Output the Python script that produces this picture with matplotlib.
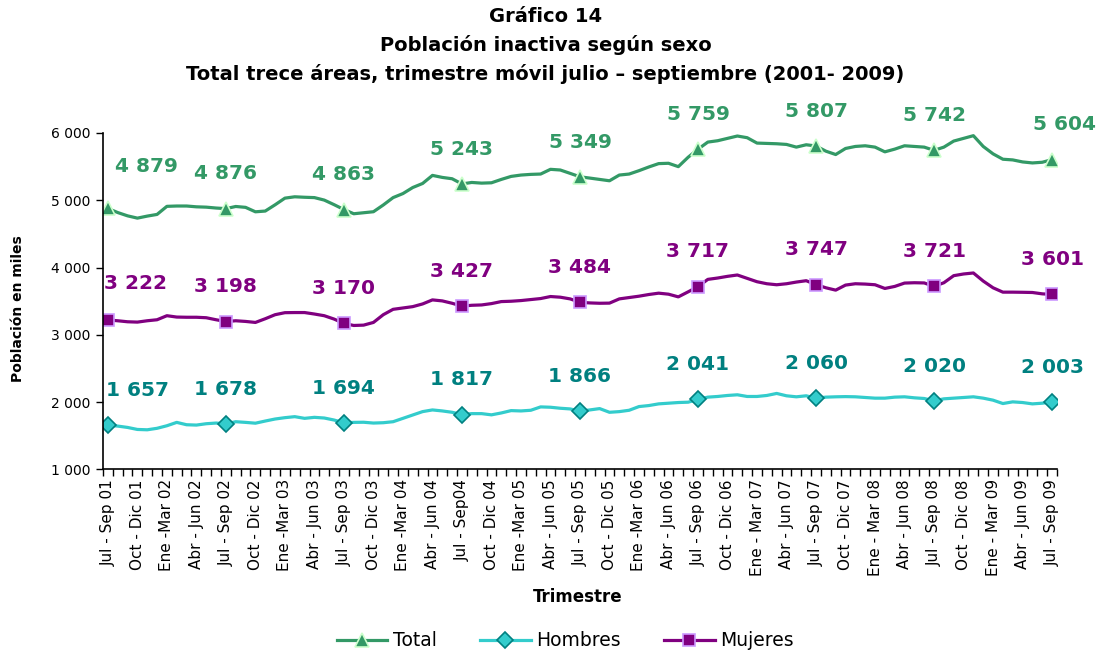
import numpy as np
import matplotlib
matplotlib.use('Agg')
from matplotlib import pyplot as plt

# trimestres moviles jul-sep 2001 .. jul-sep 2009 (miles de personas)
total = [4879, 4818, 4769, 4735, 4765, 4790, 4910, 4915, 4915, 4903, 4898, 4885, 4876,
         4908, 4895, 4829, 4840, 4933, 5032, 5052, 5045, 5040, 5003, 4935, 4863,
         4800, 4815, 4830, 4930, 5040, 5100, 5190, 5250, 5370, 5340, 5320, 5243,
         5265, 5255, 5260, 5310, 5355, 5375, 5385, 5390, 5460, 5450, 5400, 5349,
         5330, 5310, 5290, 5375, 5390, 5440, 5495, 5545, 5550, 5500, 5640, 5759,
         5865, 5885, 5920, 5955, 5930, 5850, 5845, 5840, 5830, 5790, 5825, 5807,
         5730, 5680, 5770, 5800, 5810, 5790, 5720, 5760, 5810, 5800, 5790, 5742,
         5790, 5880, 5920, 5960, 5800, 5690, 5610, 5600, 5570, 5555, 5565, 5604]

mujeres = [3222, 3210, 3195, 3190, 3210, 3225, 3285, 3265, 3262, 3262, 3255, 3225, 3198,
           3210, 3200, 3185, 3240, 3300, 3330, 3332, 3332, 3310, 3285, 3235, 3170,
           3140, 3145, 3185, 3300, 3380, 3400, 3420, 3460, 3520, 3505, 3470, 3427,
           3440, 3445, 3465, 3495, 3500, 3510, 3525, 3540, 3570, 3560, 3535, 3484,
           3475, 3470, 3472, 3535, 3555, 3575, 3600, 3620, 3605, 3565, 3640, 3717,
           3825, 3845, 3870, 3890, 3840, 3790, 3760, 3745, 3760, 3785, 3805, 3747,
           3700, 3665, 3740, 3760, 3755, 3745, 3690, 3720, 3770, 3775, 3772, 3721,
           3775, 3880, 3905, 3920, 3800, 3700, 3635, 3635, 3633, 3630, 3610, 3601]

hombres = [1657, 1645, 1625, 1595, 1590, 1612, 1650, 1700, 1665, 1660, 1680, 1690, 1678,
           1710, 1700, 1688, 1720, 1750, 1770, 1785, 1760, 1775, 1765, 1735, 1694,
           1700, 1702, 1690, 1695, 1710, 1760, 1810, 1860, 1885, 1870, 1850, 1817,
           1830, 1830, 1812, 1840, 1875, 1870, 1880, 1930, 1925, 1910, 1900, 1866,
           1885, 1905, 1850, 1860, 1880, 1935, 1950, 1975, 1985, 1995, 2000, 2041,
           2075, 2085, 2100, 2110, 2085, 2085, 2100, 2130, 2095, 2080, 2095, 2060,
           2075, 2080, 2083, 2080, 2070, 2060, 2060, 2075, 2080, 2065, 2055, 2020,
           2050, 2060, 2070, 2080, 2060, 2030, 1980, 2005, 1995, 1975, 1985, 2003]

etiquetas = ['Jul - Sep 01', 'Oct - Dic 01', 'Ene -Mar 02', 'Abr - Jun 02',
             'Jul - Sep 02', 'Oct - Dic 02', 'Ene -Mar 03', 'Abr - Jun 03',
             'Jul - Sep 03', 'Oct - Dic 03', 'Ene -Mar 04', 'Abr - Jun 04',
             'Jul - Sep04', 'Oct - Dic 04', 'Ene -Mar 05', 'Abr - Jun 05',
             'Jul - Sep 05', 'Oct - Dic 05', 'Ene -Mar 06', 'Abr - Jun 06',
             'Jul - Sep 06', 'Oct - Dic 06', 'Ene - Mar 07', 'Abr - Jun 07',
             'Jul - Sep 07', 'Oct - Dic 07', 'Ene - Mar 08', 'Abr - Jun 08',
             'Jul - Sep 08', 'Oct - Dic 08', 'Ene - Mar 09', 'Abr - Jun 09',
             'Jul - Sep 09']


def miles(v):
    return f'{v:,}'.replace(',', ' ')


x = np.arange(len(total))

fig = plt.figure(figsize=(11, 6.5), dpi=100)
ax = fig.add_axes([0.0936, 0.2777, 0.8673, 0.5177])

ax.plot(x, total, color='#339966', lw=2.3, marker='^', markevery=12, ms=9.5,
        mfc='#339966', mec='#CCFFCC', mew=1.2, label='Total')
ax.plot(x, hombres, color='#33CCCC', lw=2.3, marker='D', markevery=12, ms=8,
        mfc='#33CCCC', mec='#008080', mew=1.2, label='Hombres')
ax.plot(x, mujeres, color='#800080', lw=2.3, marker='s', markevery=12, ms=8.5,
        mfc='#800080', mec='#CC99FF', mew=1.2, label='Mujeres')

# etiquetas de datos en los trimestres jul-sep
series = [(total, '#339966', 28, 30), (mujeres, '#800080', 20, 26), (hombres, '#008080', 21, 25)]
for datos, color, dx0, dy0 in series:
    for k in range(0, len(datos), 12):
        dx, dy = 0, 25
        if k == 0:
            dx, dy = dx0, dy0
        if k == 96 and datos is total:
            dx = 9
        ax.annotate(miles(datos[k]), (x[k], datos[k]), xytext=(dx, dy),
                    textcoords='offset points', ha='center', va='center',
                    fontsize=14.5, fontweight='bold', color=color)

ax.set_xlim(-0.5, len(x) - 0.5)
ax.set_ylim(1000, 6000)
yt = list(range(1000, 6001, 1000))
ax.set_yticks(yt)
ax.set_yticklabels([miles(v) for v in yt], fontsize=10)
ax.set_xticks(x[::3])
ax.set_xticklabels(etiquetas, rotation=90, fontsize=11)
ax.set_xticks(np.arange(-0.5, len(x), 1), minor=True)
ax.tick_params(axis='x', which='major', length=0, pad=7)
ax.tick_params(axis='x', which='minor', length=5, width=1, direction='out')
ax.tick_params(axis='y', length=5, width=1, direction='out', pad=4)
ax.spines['top'].set_visible(False)
ax.spines['right'].set_visible(False)
ax.spines['left'].set_linewidth(1.2)
ax.spines['bottom'].set_linewidth(1.2)

fig.text(0.496, 1 - 16 / 650, 'Gráfico 14', ha='center', va='center', fontsize=14, fontweight='bold')
fig.text(0.496, 1 - 45 / 650, 'Población inactiva según sexo', ha='center', va='center',
         fontsize=14, fontweight='bold')
fig.text(0.496, 1 - 74 / 650, 'Total trece áreas, trimestre móvil julio – septiembre (2001- 2009)',
         ha='center', va='center', fontsize=14, fontweight='bold')

fig.text(18 / 1100, 1 - 309 / 650, 'Población en miles', rotation=90, ha='center', va='center',
         fontsize=10, fontweight='bold')
fig.text(578 / 1100, 1 - 597 / 650, 'Trimestre', ha='center', va='center',
         fontsize=12, fontweight='bold')

fig.legend(loc='center', bbox_to_anchor=(0.514, 1 - 641 / 650), ncol=3, frameon=False,
           fontsize=13.5, handlelength=2.7, columnspacing=2.3, handletextpad=0.3)

fig.savefig('out.png', dpi=100)
